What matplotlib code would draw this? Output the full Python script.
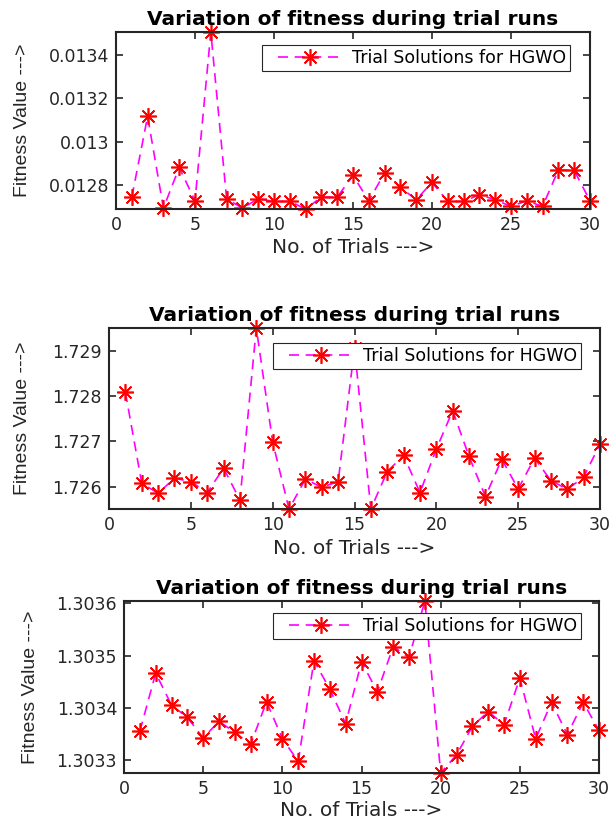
import numpy as np
import matplotlib.pyplot as plt
from matplotlib.legend_handler import HandlerLine2D

plt.rcParams['font.family'] = ['DejaVu Sans']

trials = np.arange(1, 31)

# fitness values
fit_a = [0.012743, 0.013116, 0.012692, 0.012880, 0.012726, 0.013506, 0.012735, 0.012692,
         0.012735, 0.012723, 0.012723, 0.012688, 0.012743, 0.012743, 0.012843, 0.012726,
         0.012855, 0.012788, 0.012731, 0.012811, 0.012723, 0.012723, 0.012754, 0.012731,
         0.012700, 0.012726, 0.012700, 0.012869, 0.012866, 0.012726]
fit_b = [1.728089, 1.726074, 1.725852, 1.726185, 1.726111, 1.725867, 1.726407, 1.725704,
         1.729510, 1.726985, 1.725504, 1.726163, 1.725985, 1.726111, 1.729060, 1.725504,
         1.726333, 1.726689, 1.725867, 1.726830, 1.727681, 1.726667, 1.725778, 1.726607,
         1.725948, 1.726630, 1.726133, 1.725941, 1.726207, 1.726941]
fit_c = [1.3033552, 1.3034663, 1.3034054, 1.3033816, 1.3033427, 1.3033741, 1.3033533, 1.3033301,
         1.3034117, 1.3033414, 1.3032975, 1.3034902, 1.3034356, 1.3033697, 1.3034883, 1.3034305,
         1.3035172, 1.3034964, 1.3036044, 1.3032755, 1.3033100, 1.3033646, 1.3033929, 1.3033678,
         1.3034569, 1.3033408, 1.3034104, 1.3033490, 1.3034104, 1.3033571]

yticks_a = [0.0128, 0.0130, 0.0132, 0.0134]
ylabels_a = ['0.0128', '0.013', '0.0132', '0.0134']
yticks_b = [1.726, 1.727, 1.728, 1.729]
ylabels_b = ['1.726', '1.727', '1.728', '1.729']
yticks_c = [1.3033, 1.3034, 1.3035, 1.3036]
ylabels_c = ['1.3033', '1.3034', '1.3035', '1.3036']
xticks = [0, 5, 10, 15, 20, 25, 30]

# axes rect, legend anchor, xlabel y, ylabel x
panels = [
    (fit_a, yticks_a, ylabels_a, [0.1902, 0.7448, 0.7770, 0.2161], (0.958, 0.927), -0.164, -0.18),
    (fit_b, yticks_b, ylabels_b, [0.1787, 0.3785, 0.8049, 0.2210], (0.961, 0.917), -0.166, -0.158),
    (fit_c, yticks_c, ylabels_c, [0.2033, 0.0562, 0.7787, 0.2100], (0.962, 0.930), -0.162, -0.178),
]

dark = '#262626'
fig = plt.figure(figsize=(6.1, 8.19), dpi=100)

for vals, yt, yl, pos, leg, xly, ylx in panels:
    ax = fig.add_axes(pos)
    line, = ax.plot(trials, vals, color='#ff00ff', linestyle=(0, (6, 4)), linewidth=1.2,
                    marker=(8, 2, 0), markersize=12, markeredgecolor='#ff0000',
                    markerfacecolor='#ff0000', markeredgewidth=1.2,
                    label='Trial Solutions for HGWO', clip_on=False)
    ax.set_xlim(0, 30)
    ax.set_ylim(min(vals), max(vals))
    ax.set_xticks(xticks)
    ax.set_yticks(yt)
    ax.set_yticklabels(yl)
    ax.tick_params(direction='in', top=True, right=True, length=5, width=1.2,
                   labelsize=12.5, colors=dark, pad=5)
    for s in ax.spines.values():
        s.set_linewidth(1.5)
        s.set_color(dark)
    ax.set_title('Variation of fitness during trial runs', fontsize=14.5,
                 fontweight='bold', pad=5)
    ax.set_xlabel('No. of Trials --->', fontsize=14.5, color=dark)
    ax.xaxis.set_label_coords(0.5, xly)
    ax.set_ylabel('Fitness Value --->', fontsize=14, color=dark,
                  family=['Liberation Sans Narrow', 'Liberation Sans'])
    ax.yaxis.set_label_coords(ylx, 0.5)
    lg = ax.legend(loc='upper right', bbox_to_anchor=leg, borderaxespad=0,
                   fontsize=12.5, handlelength=4.4, handletextpad=0.55, borderpad=0.22,
                   fancybox=False, edgecolor=dark, framealpha=1,
                   handler_map={line: HandlerLine2D(xpad=0.7)})
    lg.get_frame().set_linewidth(0.8)

fig.savefig('out.png', dpi=100)
